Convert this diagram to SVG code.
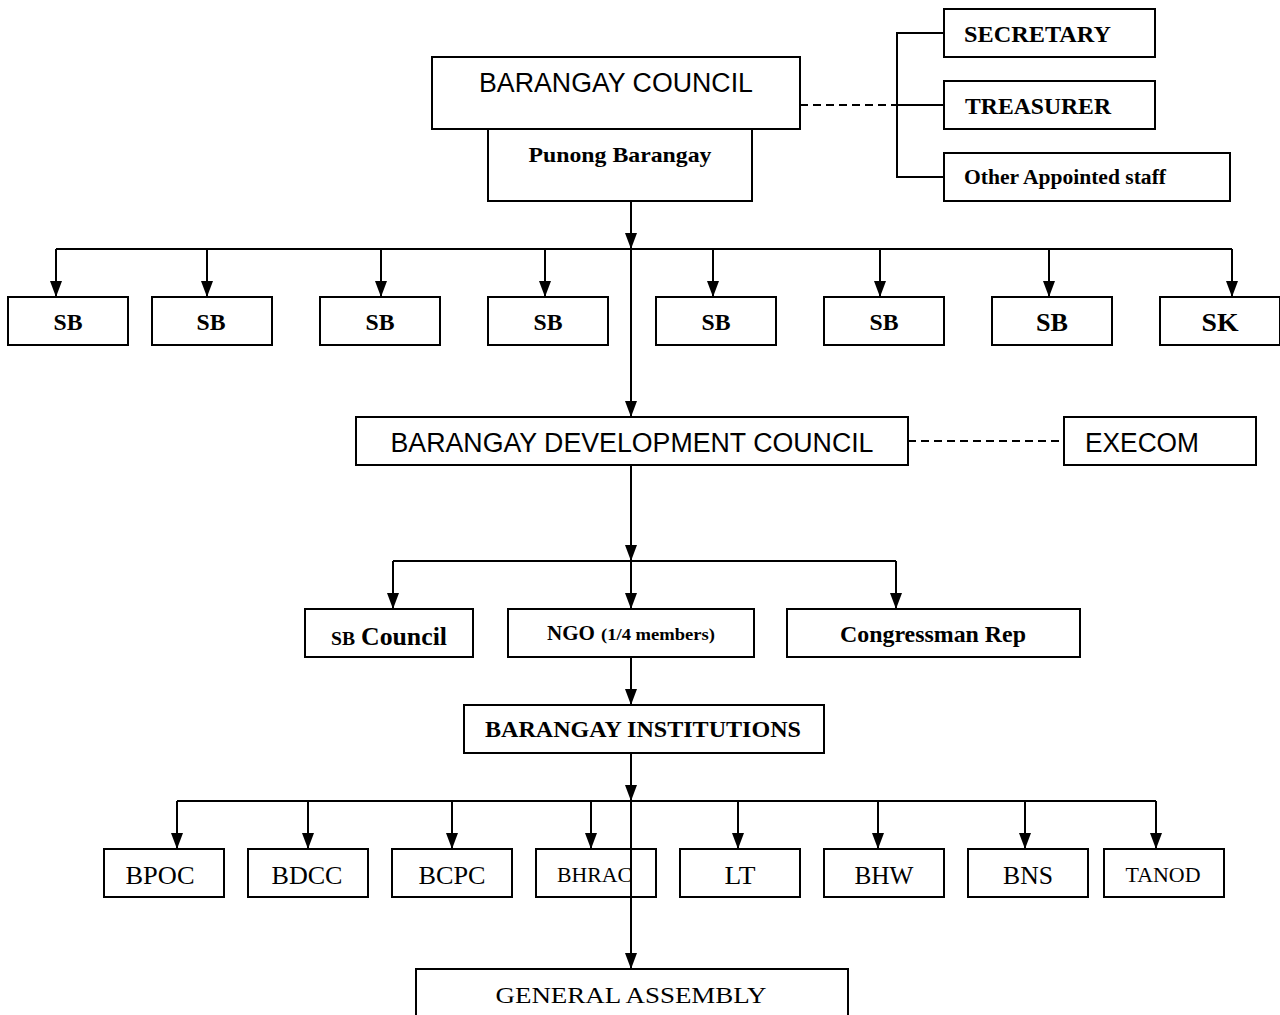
<svg xmlns="http://www.w3.org/2000/svg" width="1280" height="1015" viewBox="0 0 1280 1015">
<style>
.box{fill:#fff;stroke:#000;stroke-width:2}
.ln{fill:none;stroke:#000;stroke-width:2}
.ar{fill:none;stroke:#000;stroke-width:2;marker-end:url(#ah)}
.dash{fill:none;stroke:#000;stroke-width:2;stroke-dasharray:8,5}
.sans{font-family:"Liberation Sans",Arial,sans-serif;fill:#000}
.sb{font-family:"Liberation Serif","Times New Roman",serif;font-weight:bold;fill:#000}
.sr{font-family:"Liberation Serif","Times New Roman",serif;fill:#000}
</style>
<defs>
<marker id="ah" viewBox="0 0 16 12" refX="16" refY="6" markerWidth="16" markerHeight="12" markerUnits="userSpaceOnUse" orient="auto">
<path d="M0,0 L16,6 L0,12 z" fill="#000"/>
</marker>
</defs>
<rect width="1280" height="1015" fill="#fff"/>

<g id="connectors">
<path class="dash" d="M800,105 H897"/>
<path class="ln" d="M944,33 H897 V177 H944 M897,105 H944"/>
<path class="ar" d="M631,201 V249"/>
<path class="ln" d="M56,249 H1232"/>
<path class="ar" d="M56,249 V297"/>
<path class="ar" d="M207,249 V297"/>
<path class="ar" d="M381,249 V297"/>
<path class="ar" d="M545,249 V297"/>
<path class="ar" d="M713,249 V297"/>
<path class="ar" d="M880,249 V297"/>
<path class="ar" d="M1049,249 V297"/>
<path class="ar" d="M1232,249 V297"/>
<path class="ar" d="M631,249 V417"/>
<path class="dash" d="M908,441 H1064"/>
<path class="ar" d="M631,465 V561"/>
<path class="ln" d="M393,561 H896"/>
<path class="ar" d="M393,561 V609"/>
<path class="ar" d="M631,561 V609"/>
<path class="ar" d="M896,561 V609"/>
<path class="ar" d="M631,657 V705"/>
<path class="ar" d="M631,753 V801"/>
<path class="ln" d="M177,801 H1156"/>
<path class="ar" d="M177,801 V849"/>
<path class="ar" d="M308,801 V849"/>
<path class="ar" d="M452,801 V849"/>
<path class="ar" d="M591,801 V849"/>
<path class="ar" d="M738,801 V849"/>
<path class="ar" d="M878,801 V849"/>
<path class="ar" d="M1025,801 V849"/>
<path class="ar" d="M1156,801 V849"/>
</g>

<g id="barangay-council"><rect class="box" x="432" y="57" width="368" height="72"/><text class="sans" x="616" y="92" font-size="27" text-anchor="middle" textLength="274" lengthAdjust="spacingAndGlyphs">BARANGAY COUNCIL</text></g>
<g id="punong-barangay"><rect class="box" x="488" y="129" width="264" height="72"/><text class="sb" x="620" y="162" font-size="22" text-anchor="middle" textLength="183" lengthAdjust="spacingAndGlyphs">Punong Barangay</text></g>
<g id="secretary"><rect class="box" x="944" y="9" width="211" height="48"/><text class="sb" x="964" y="42" font-size="24" textLength="147" lengthAdjust="spacingAndGlyphs">SECRETARY</text></g>
<g id="treasurer"><rect class="box" x="944" y="81" width="211" height="48"/><text class="sb" x="965" y="114" font-size="24" textLength="146" lengthAdjust="spacingAndGlyphs">TREASURER</text></g>
<g id="other-staff"><rect class="box" x="944" y="153" width="286" height="48"/><text class="sb" x="964" y="184" font-size="20" textLength="202" lengthAdjust="spacingAndGlyphs">Other Appointed staff</text></g>

<g id="sb1"><rect class="box" x="8" y="297" width="120" height="48"/><text class="sb" x="68" y="330" font-size="23" text-anchor="middle" textLength="29" lengthAdjust="spacingAndGlyphs">SB</text></g>
<g id="sb2"><rect class="box" x="152" y="297" width="120" height="48"/><text class="sb" x="211" y="330" font-size="23" text-anchor="middle" textLength="29" lengthAdjust="spacingAndGlyphs">SB</text></g>
<g id="sb3"><rect class="box" x="320" y="297" width="120" height="48"/><text class="sb" x="380" y="330" font-size="23" text-anchor="middle" textLength="29" lengthAdjust="spacingAndGlyphs">SB</text></g>
<g id="sb4"><rect class="box" x="488" y="297" width="120" height="48"/><text class="sb" x="548" y="330" font-size="23" text-anchor="middle" textLength="29" lengthAdjust="spacingAndGlyphs">SB</text></g>
<g id="sb5"><rect class="box" x="656" y="297" width="120" height="48"/><text class="sb" x="716" y="330" font-size="23" text-anchor="middle" textLength="29" lengthAdjust="spacingAndGlyphs">SB</text></g>
<g id="sb6"><rect class="box" x="824" y="297" width="120" height="48"/><text class="sb" x="884" y="330" font-size="23" text-anchor="middle" textLength="29" lengthAdjust="spacingAndGlyphs">SB</text></g>
<g id="sb7"><rect class="box" x="992" y="297" width="120" height="48"/><text class="sb" x="1052" y="331" font-size="25" text-anchor="middle" textLength="32" lengthAdjust="spacingAndGlyphs">SB</text></g>
<g id="sk"><rect class="box" x="1160" y="297" width="120" height="48"/><text class="sb" x="1220" y="331" font-size="26" text-anchor="middle" textLength="37" lengthAdjust="spacingAndGlyphs">SK</text></g>

<g id="bdc"><rect class="box" x="356" y="417" width="552" height="48"/><text class="sans" x="632" y="452" font-size="27" text-anchor="middle" textLength="483" lengthAdjust="spacingAndGlyphs">BARANGAY DEVELOPMENT COUNCIL</text></g>
<g id="execom"><rect class="box" x="1064" y="417" width="192" height="48"/><text class="sans" x="1085" y="452" font-size="27" textLength="114" lengthAdjust="spacingAndGlyphs">EXECOM</text></g>

<g id="sb-council"><rect class="box" x="305" y="609" width="168" height="48"/><text class="sb" x="331" y="645" font-size="19" textLength="24" lengthAdjust="spacingAndGlyphs">SB</text><text class="sb" x="361" y="645" font-size="25" textLength="86" lengthAdjust="spacingAndGlyphs">Council</text></g>
<g id="ngo"><rect class="box" x="508" y="609" width="246" height="48"/><text class="sb" x="547" y="640" font-size="21" textLength="48" lengthAdjust="spacingAndGlyphs">NGO</text><text class="sb" x="601" y="640" font-size="17" textLength="114" lengthAdjust="spacingAndGlyphs">(1/4 members)</text></g>
<g id="congressman"><rect class="box" x="787" y="609" width="293" height="48"/><text class="sb" x="933" y="642" font-size="23" text-anchor="middle" textLength="186" lengthAdjust="spacingAndGlyphs">Congressman Rep</text></g>

<g id="institutions"><rect class="box" x="464" y="705" width="360" height="48"/><text class="sb" x="643" y="737" font-size="23" text-anchor="middle" textLength="316" lengthAdjust="spacingAndGlyphs">BARANGAY INSTITUTIONS</text></g>

<g id="bpoc"><rect class="box" x="104" y="849" width="120" height="48"/><text class="sr" x="160" y="884" font-size="26" text-anchor="middle" textLength="69" lengthAdjust="spacingAndGlyphs">BPOC</text></g>
<g id="bdcc"><rect class="box" x="248" y="849" width="120" height="48"/><text class="sr" x="307" y="884" font-size="26" text-anchor="middle" textLength="71" lengthAdjust="spacingAndGlyphs">BDCC</text></g>
<g id="bcpc"><rect class="box" x="392" y="849" width="120" height="48"/><text class="sr" x="452" y="884" font-size="26" text-anchor="middle" textLength="67" lengthAdjust="spacingAndGlyphs">BCPC</text></g>
<g id="bhrac"><rect class="box" x="536" y="849" width="120" height="48"/><text class="sr" x="557" y="882" font-size="20" textLength="75" lengthAdjust="spacingAndGlyphs">BHRAC</text></g>
<g id="lt"><rect class="box" x="680" y="849" width="120" height="48"/><text class="sr" x="740" y="884" font-size="26" text-anchor="middle" textLength="31" lengthAdjust="spacingAndGlyphs">LT</text></g>
<g id="bhw"><rect class="box" x="824" y="849" width="120" height="48"/><text class="sr" x="884" y="884" font-size="26" text-anchor="middle" textLength="59" lengthAdjust="spacingAndGlyphs">BHW</text></g>
<g id="bns"><rect class="box" x="968" y="849" width="120" height="48"/><text class="sr" x="1028" y="884" font-size="26" text-anchor="middle" textLength="50" lengthAdjust="spacingAndGlyphs">BNS</text></g>
<g id="tanod"><rect class="box" x="1104" y="849" width="120" height="48"/><text class="sr" x="1163" y="882" font-size="21" text-anchor="middle" textLength="75" lengthAdjust="spacingAndGlyphs">TANOD</text></g>

<g id="general-assembly"><rect class="box" x="416" y="969" width="432" height="60"/><text class="sr" x="631" y="1003" font-size="24" text-anchor="middle" textLength="271" lengthAdjust="spacingAndGlyphs">GENERAL ASSEMBLY</text></g>

<g id="through-lines">
<path class="ar" d="M631,801 V969"/>
</g>
</svg>
